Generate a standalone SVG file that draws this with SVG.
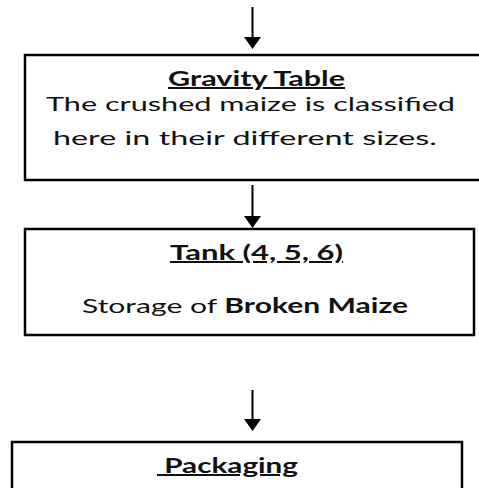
<svg xmlns="http://www.w3.org/2000/svg" width="479" height="488" viewBox="0 0 479 488">
<style>
.box{fill:#fff;stroke:#000;stroke-width:2.5}
.t{font-family:Lato,"Open Sans","Liberation Sans",sans-serif;font-size:20px;fill:#111}
.b{font-weight:bold}
.u{text-decoration:underline}
.c{stroke:#000;stroke-width:2;fill:none}
.h{fill:#000}
</style>
<rect width="479" height="488" fill="#fff"/>
<g id="connectors">
<line class="c" x1="252.5" y1="7" x2="252.5" y2="37"/>
<path class="h" d="M244,37 L261,37 L252.5,49 Z"/>
<line class="c" x1="252.5" y1="185" x2="252.5" y2="216"/>
<path class="h" d="M244,216 L261,216 L252.5,228 Z"/>
<line class="c" x1="252.5" y1="390" x2="252.5" y2="419"/>
<path class="h" d="M244,419 L261,419 L252.5,431 Z"/>
</g>
<g id="gravity-table">
<rect class="box" x="25" y="55" width="470" height="125"/>
<text class="t b u" x="168" y="86" textLength="177" lengthAdjust="spacingAndGlyphs">Gravity Table</text>
<text class="t" x="46" y="111" textLength="409" lengthAdjust="spacingAndGlyphs">The crushed maize is classified</text>
<text class="t" x="53" y="145" textLength="384" lengthAdjust="spacingAndGlyphs">here in their different sizes.</text>
</g>
<g id="tank">
<rect class="box" x="25" y="229" width="449" height="106"/>
<text class="t b u" x="170" y="260" textLength="173" lengthAdjust="spacingAndGlyphs">Tank (4, 5, 6)</text>
<text class="t" x="82" y="313" textLength="326" lengthAdjust="spacingAndGlyphs">Storage of <tspan class="b">Broken Maize</tspan></text>
</g>
<g id="packaging">
<rect class="box" x="12" y="442" width="450" height="60"/>
<text class="t b u" x="157" y="473" textLength="141" lengthAdjust="spacingAndGlyphs" xml:space="preserve" style="white-space:pre"> Packaging</text>
</g>
</svg>
